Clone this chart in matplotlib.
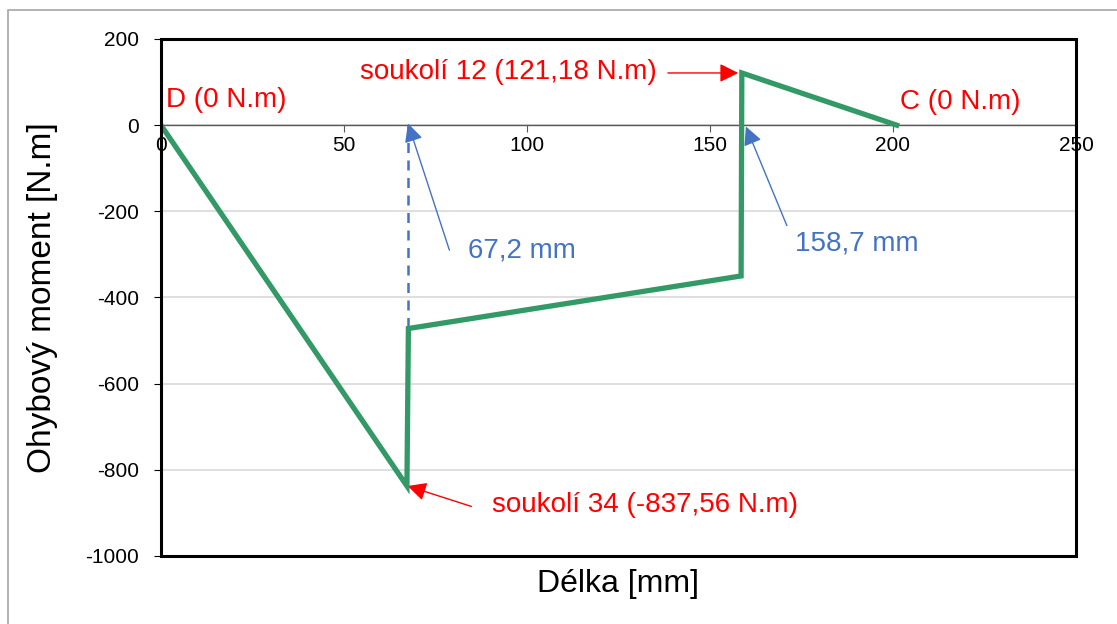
import numpy as np
import matplotlib.pyplot as plt
from matplotlib.patches import Rectangle

plt.rcParams['font.family'] = ['Liberation Sans', 'DejaVu Sans']
plt.rcParams['axes.unicode_minus'] = False

# průběh ohybového momentu po délce hřídele
delka = [0, 67.2, 67.6, 158.5, 158.7, 201]          # mm
moment = [0, -837.56, -472, -350, 121.18, 0]        # N.m

x_kot = [67.5, 158.7]          # kótované polohy soukolí [mm]
y_kot_dolni = -472             # konec čárkované kóty

zelena = '#339966'
modra = '#4472C4'
cervena = '#FF0000'
fs_popis = 20

fig = plt.figure(figsize=(11.17, 6.24), dpi=100)
ax = fig.add_axes([0.1441, 0.1090, 0.8192, 0.8285])

# rámeček celého grafu
fig.patches.append(Rectangle((8 / 1117, -0.1), 1.2, 1 - 10 / 624 + 0.1,
                             transform=fig.transFigure, fill=False,
                             ec='#a6a6a6', lw=1.2, clip_on=False))

ax.plot(delka, moment, color=zelena, lw=3.8, solid_joinstyle='miter', zorder=4)
ax.plot([x_kot[0], x_kot[0]], [0, y_kot_dolni], color=modra, lw=1.8,
        ls=(0, (4, 3)), zorder=3)

ax.set_xlim(0, 250)
ax.set_ylim(-1000, 200)
ax.set_xticks(np.arange(0, 251, 50))
ax.set_yticks(np.arange(-1000, 201, 200))
ax.grid(axis='y', color='#d9d9d9', lw=1.2)
ax.set_axisbelow(True)

# osa x prochází nulou
ax.spines['bottom'].set_position(('data', 0))
ax.spines['bottom'].set_color('#595959')
ax.spines['bottom'].set_linewidth(1)
ax.spines['top'].set_visible(False)
ax.spines['right'].set_visible(False)
ax.spines['left'].set_linewidth(1.8)
ax.add_patch(Rectangle((0, 0), 1, 1, transform=ax.transAxes, fill=False,
                       ec='black', lw=2.2, clip_on=False, zorder=5))

ax.tick_params(axis='x', direction='out', length=5, color='#595959',
               labelsize=15, pad=3)
ax.tick_params(axis='y', direction='out', length=5, color='black',
               labelsize=15, pad=11)

ax.set_xlabel('Délka [mm]', fontsize=23)
ax.xaxis.set_label_coords(0.5, -0.025)
ax.set_ylabel('Ohybový moment [N.m]', fontsize=24)
ax.yaxis.set_label_coords(-0.113, 0.5)

arrow = dict(arrowstyle='-|>', lw=1, mutation_scale=28, shrinkA=0, shrinkB=0)

# popisky bodů
ax.text(1.5, 58, 'D (0 N.m)', color=cervena, fontsize=fs_popis, va='center')
ax.text(202, 53, 'C (0 N.m)', color=cervena, fontsize=fs_popis, va='center')

ax.annotate('', xy=(157.7, moment[4]), xytext=(138.5, moment[4]),
            arrowprops=dict(arrow, color=cervena))
ax.text(135.5, moment[4] + 3, 'soukolí 12 (121,18 N.m)', color=cervena,
        fontsize=fs_popis, va='center', ha='right')

ax.annotate('', xy=(67.4, moment[1]), xytext=(84.8, -885),
            arrowprops=dict(arrow, color=cervena))
ax.text(90.5, -882, 'soukolí 34 (-837,56 N.m)', color=cervena,
        fontsize=fs_popis, va='center')

# kóty poloh soukolí
ax.annotate('', xy=(x_kot[0], 4), xytext=(78.8, -290),
            arrowprops=dict(arrow, color=modra))
ax.text(84, -290, '67,2 mm', color=modra, fontsize=fs_popis, va='center')

ax.annotate('', xy=(159.8, -3), xytext=(171, -233),
            arrowprops=dict(arrow, color=modra))
ax.text(173.2, -274, '158,7 mm', color=modra, fontsize=fs_popis, va='center')

fig.savefig('out.png', dpi=100)
